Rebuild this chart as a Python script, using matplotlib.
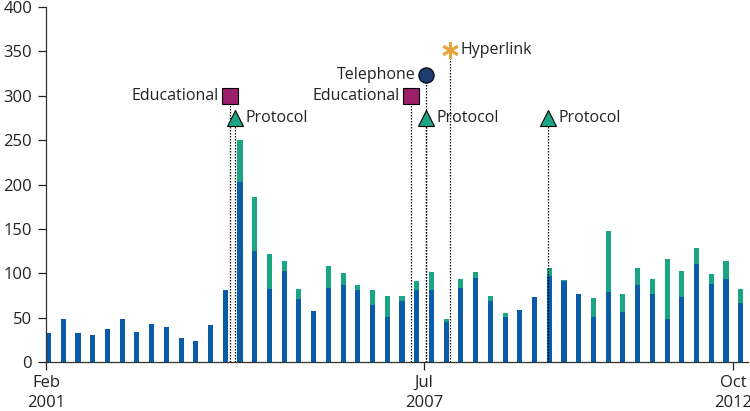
import matplotlib.pyplot as plt

# Monate seit Feb 2001, quartalsweise Balken
months = list(range(0, 144, 3))
blue_vals = [33, 49, 33, 30, 37, 48, 34, 43, 39, 27, 24, 42,
             81, 203, 125, 82, 103, 71, 58, 83, 87, 81, 64, 51,
             69, 81, 81, 45, 84, 95, 69, 51, 59, 73, 97, 91,
             77, 51, 79, 56, 87, 77, 48, 73, 110, 88, 94, 66]
totals = [33, 49, 33, 30, 37, 48, 34, 43, 39, 27, 24, 42,
          81, 250, 186, 122, 114, 82, 58, 108, 100, 87, 81, 75,
          74, 91, 101, 49, 94, 102, 74, 55, 59, 73, 106, 92,
          77, 72, 148, 77, 106, 94, 116, 103, 128, 99, 114, 82]
teal_vals = [t - b for t, b in zip(totals, blue_vals)]

# Interventionen: (Monat, Hoehe, Beschriftung, Typ)
events = [
    (37.5, 300, 'Educational', 'edu'),
    (38.5, 275, 'Protocol', 'prot'),
    (74.4, 300, 'Educational', 'edu'),
    (77.5, 323, 'Telephone', 'tel'),
    (77.5, 275, 'Protocol', 'prot'),
    (82.4, 352, 'Hyperlink', 'hyp'),
    (102.3, 275, 'Protocol', 'prot'),
]

tick_months = [0, 77, 140]
tick_labels = ['Feb\n2001', 'Jul\n2007', 'Oct\n2012']

plt.rcParams['font.family'] = ['Open Sans', 'DejaVu Sans']

fig = plt.figure(figsize=(7.5, 4.11), dpi=100)
ax = fig.add_axes([0.0613, 0.119, 0.936, 0.864])

ax.bar(months, blue_vals, width=1.05, align='edge', color='#0B5CA8', zorder=2)
ax.bar(months, teal_vals, bottom=blue_vals, width=1.05, align='edge',
       color='#1BA585', zorder=2)

styles = {
    'edu': dict(marker='s', color='#9C1F6A', ms=11.5, mec='black', mew=0.8),
    'prot': dict(marker='^', color='#1BA585', ms=12, mec='black', mew=0.8),
    'tel': dict(marker='o', color='#1F3C6E', ms=11, mec='black', mew=0.8),
    'hyp': dict(marker=(6, 2, 0), color='#E8A33C', ms=12, mew=2),
}
offsets = {'edu': 6.5, 'prot': 7, 'tel': 6, 'hyp': 7}
for x, y, label, kind in events:
    ax.plot([x, x], [0, y - offsets[kind]], color='black', lw=0.9,
            ls=(0, (1.2, 1.2)), zorder=3)
    ax.plot(x, y, linestyle='none', zorder=4, **styles[kind])
    if kind in ('edu', 'tel'):
        ax.text(x - 2.3, y, label, ha='right', va='center', fontsize=11.5,
                color='#222222')
    else:
        ax.text(x + 2.1, y, label, ha='left', va='center', fontsize=11.5,
                color='#222222')

ax.set_xlim(0, 143)
ax.set_ylim(0, 400)
ax.set_yticks(range(0, 401, 50))
ax.set_xticks(tick_months)
ax.set_xticklabels(tick_labels, linespacing=1.35)
ax.tick_params(axis='both', labelsize=12, colors='#222222', length=6,
               width=0.9, direction='out')
ax.tick_params(axis='x', pad=3)
ax.tick_params(axis='y', pad=4)

for side in ['top', 'right']:
    ax.spines[side].set_visible(False)
for side in ['left', 'bottom']:
    ax.spines[side].set_linewidth(0.9)
    ax.spines[side].set_color('#333333')

fig.savefig('out.png', dpi=100)
